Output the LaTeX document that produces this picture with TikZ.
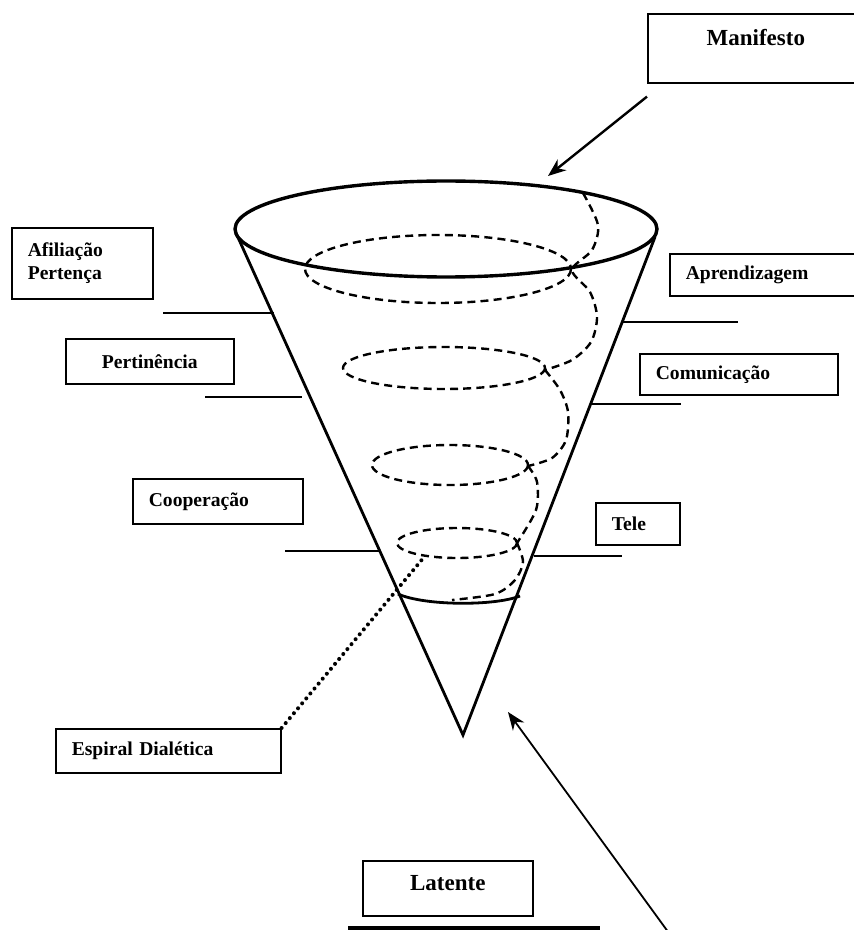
\documentclass[tikz,border=0pt]{standalone}
\usepackage{fontspec}
\setmainfont{Liberation Serif}
\usetikzlibrary{arrows.meta}

\begin{document}
\begin{tikzpicture}[x=0.5pt,y=-0.5pt,
        box/.style={draw,line width=0.8pt,inner xsep=8pt,inner ysep=0pt,anchor=north west,align=left,font=\bfseries\fontsize{9.8}{11.5}\selectfont},
        bigbox/.style={box,align=center,inner ysep=0.75pt,font=\bfseries\fontsize{11.5}{13}\selectfont},
        level/.style={line width=1.2pt},
        spiral/.style={line width=1.2pt,dash pattern=on 4pt off 2.6pt},
        cone/.style={line width=1.4pt,line join=miter}]
        \useasboundingbox (0,0) rectangle (853,930);
        \node[bigbox,minimum width=108pt,text height=15pt,text depth=18pt] (manifesto) at (647,13) {Manifesto};
        \node[box,text width=54.5pt,minimum height=35.5pt] (afiliacao) at (11,227) {Afiliação\\Pertença};
        \node[box,align=center,minimum width=84pt,minimum height=22.5pt] (pertinencia) at (65,338) {Pertinência};
        \node[box,text width=69pt,minimum height=22.5pt] (cooperacao) at (132,478) {Cooperação};
        \node[box,text width=96.5pt,minimum height=22pt] (espiral) at (55,728) {Espiral Dialética};
        \node[box,text width=84pt,minimum height=21pt] (aprendizagem) at (669,253) {Aprendizagem};
        \node[box,text width=83pt,minimum height=20.5pt] (comunicacao) at (639,353) {Comunicação};
        \node[box,text width=26pt,minimum height=21pt] (tele) at (595,502) {Tele};
        \node[bigbox,minimum width=85pt,text height=14pt,text depth=12pt] (latente) at (362,860) {Latente};
        \coordinate (apex) at (463,735);
        \coordinate (rimtip) at (548,176);
        \coordinate (loopfour) at (425,556);
        \coordinate (latentetip) at (508,712);
        \coordinate (latentetail) at (674,940);
        \draw[line width=1.7pt] (446,229) ellipse [x radius=211,y radius=48];
        \draw[cone] (236,233) -- (apex) -- (655,237);
        \draw[cone] (398,594) .. controls (425,606) and (495,606) .. (520,596);
        \draw[spiral] (438,269) ellipse [x radius=133,y radius=34];
        \draw[spiral] (444,368) ellipse [x radius=101,y radius=21];
        \draw[spiral] (450,465) ellipse [x radius=78,y radius=20];
        \draw[spiral] (457,543) ellipse [x radius=60,y radius=15];
        \draw[spiral] plot[smooth] coordinates {(583,193) (598,225) (592,250) (572,270) (590,292) (597,317) (591,342) (572,360) (545,370)};
        \draw[spiral] plot[smooth] coordinates {(545,370) (560,390) (568,412) (566,440) (552,458) (528,466)};
        \draw[spiral] plot[smooth] coordinates {(528,466) (537,482) (536,510) (517,543)};
        \draw[spiral] plot[smooth] coordinates {(517,543) (523,562) (515,580) (495,594) (452,600)};
        \draw[level] (163,313) -- (274,313);
        \draw[level] (205,397) -- (302,397);
        \draw[level] (285,551) -- (381,551);
        \draw[level] (623,322) -- (738,322);
        \draw[level] (592,404) -- (681,404);
        \draw[level] (534,556) -- (622,556);
        \draw[line width=1.7pt] (348,928) -- (600,928);
        \draw[line width=2pt,line cap=round,dash pattern=on 0.01pt off 3.2pt] (espiral.north east) -- (loopfour);
        \draw[line width=1.2pt,-{Stealth[length=9pt,width=7pt]}] ([yshift=-6.5pt]manifesto.south west) -- (rimtip);
        \draw[line width=0.9pt,-{Stealth[length=9pt,width=7pt]}] (latentetail) -- (latentetip);
      \end{tikzpicture}
\end{document}
